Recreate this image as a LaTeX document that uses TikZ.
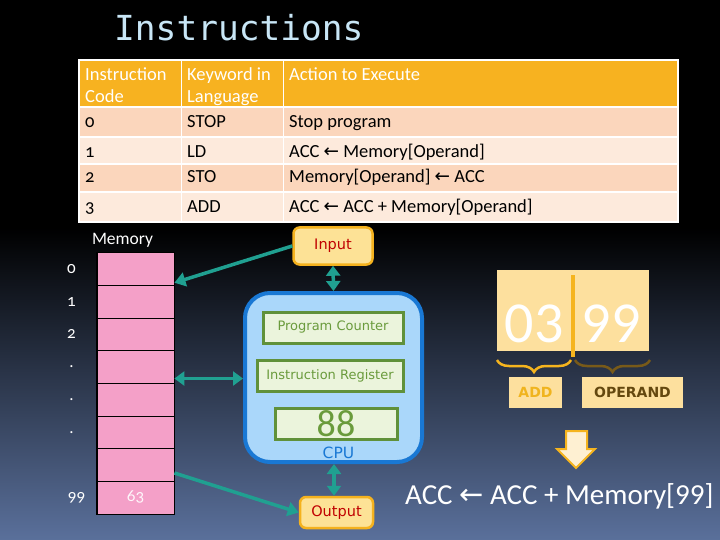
\documentclass[tikz,border=0pt]{standalone}
\usepackage{fontspec}
\setmainfont{Carlito}
\newfontfamily\osf{Carlito}[Numbers=OldStyle]
\newfontfamily\dv{DejaVu Sans}
\newfontfamily\dvmono{DejaVu Sans Mono}
\usetikzlibrary{arrows.meta,decorations.pathreplacing}
\newcommand\fsz[1]{\fontsize{#1}{#1}\selectfont}
\newcommand\larr{{\dv ←}}
\definecolor{bgbot}{RGB}{90,112,155}
\definecolor{hdr}{RGB}{247,178,32}
\definecolor{peachD}{RGB}{251,214,188}
\definecolor{peachL}{RGB}{253,234,220}
\definecolor{titleblue}{RGB}{200,230,246}
\definecolor{mempink}{RGB}{244,160,200}
\definecolor{teal}{RGB}{32,160,145}
\definecolor{iofill}{RGB}{253,226,150}
\definecolor{ioborder}{RGB}{245,178,30}
\definecolor{iotext}{RGB}{192,0,0}
\definecolor{cpufill}{RGB}{170,215,250}
\definecolor{cpuborder}{RGB}{25,120,212}
\definecolor{gfill}{RGB}{235,244,220}
\definecolor{gborder}{RGB}{96,145,58}
\definecolor{gtext}{RGB}{106,155,60}
\definecolor{codebg}{RGB}{253,224,158}
\definecolor{braceL}{RGB}{245,180,30}
\definecolor{braceR}{RGB}{120,90,25}
\definecolor{addtext}{RGB}{240,180,30}
\definecolor{opertext}{RGB}{100,72,15}
\definecolor{dafill}{RGB}{254,240,210}
\tikzset{
  hd/.style={anchor=base west,inner sep=0,text=white,font=\fsz{18.5}},
  cell/.style={anchor=base west,inner sep=0,text=black,font=\fsz{18.5}},
  memcell/.style={draw=black,line width=0.8,fill=mempink,minimum width=77,minimum height=32.66,inner sep=0},
  memlab/.style={text=white,font=\osf\fsz{17},inner sep=0},
  iobox/.style={draw=ioborder,line width=2.5,fill=iofill,rounded corners=6,text=iotext,font=\dv\fsz{14.5},inner sep=0},
  gbox/.style={draw=gborder,line width=3,fill=gfill,text=gtext,font=\dv\fsz{13},inner sep=0,minimum height=31},
  link/.style={teal,line width=3.5},
  tip/.style={-{Triangle[length=11,width=14]}},
  dtip/.style={{Triangle[length=10,width=14]}-{Triangle[length=10,width=14]}},
  tagbox/.style={fill=codebg,inner sep=0,minimum height=31,font=\dv\bfseries\fsz{14}},
}
\begin{document}
\begin{tikzpicture}[x=1pt,y=-1pt]
\useasboundingbox (0,0) rectangle (720,540);
\fill[black] (0,0) rectangle (720,540);
\shade[top color=black,bottom color=bgbot] (0,228) rectangle (720,540);

% title
\node[anchor=base west,inner sep=0,text=titleblue,font=\dvmono\fsz{34.5}] (title) at (114,41) {Instructions};

% table
\fill[hdr] (79,60) rectangle (678,107);
\fill[peachD] (79,107) rectangle (678,137);
\fill[peachL] (79,137) rectangle (678,164);
\fill[peachD] (79,164) rectangle (678,192);
\fill[peachL] (79,192) rectangle (678,222);
\draw[white,line width=1.5] (79,60) rectangle (678,222);
\foreach \yy in {107,137,164,192} \draw[white,line width=1.5] (79,\yy) -- (678,\yy);
\foreach \xx in {181.5,283.5} \draw[white,line width=1.5] (\xx,60) -- (\xx,222);

\node[hd] (h1a) at (85,81) {Instruction};
\node[hd] (h1b) at (85,103) {Code};
\node[hd] (h2a) at (187,81) {Keyword in};
\node[hd] (h2b) at (187,103) {Language};
\node[hd] (h3a) at (289,81) {Action to Execute};

\node[cell,font=\osf\fsz{18.5}] (c0) at (85,128) {0};
\node[cell] (k0) at (187,128) {STOP};
\node[cell] (a0) at (289,128) {Stop program};
\node[cell,font=\osf\fsz{18.5}] (c1) at (85,158) {1};
\node[cell] (k1) at (187,158) {LD};
\node[cell] (a1) at (289,158) {ACC \larr{} Memory[Operand]};
\node[cell,font=\osf\fsz{18.5}] (c2) at (85,183) {2};
\node[cell] (k2) at (187,183) {STO};
\node[cell] (a2) at (289,183) {Memory[Operand] \larr{} ACC};
\node[cell,font=\osf\fsz{18.5}] (c3) at (85,213) {3};
\node[cell] (k3) at (187,213) {ADD};
\node[cell] (a3) at (289,213) {ACC \larr{} ACC + Memory[Operand]};

% memory
\node[text=white,font=\fsz{17.5},inner sep=0] (memtitle) at (122.5,240) {Memory};
\foreach \i in {0,...,7} {
  \pgfmathsetmacro\cy{252.7+32.66*\i+16.33}
  \node[memcell] (m\i) at (135.5,\cy) {};
}
\draw[black,line width=1.5] (m0.north west) rectangle (m7.south east);
\node[memlab] (l0) at ([xshift=-64]m0.center) {0};
\node[memlab] (l1) at ([xshift=-64]m1.center) {1};
\node[memlab] (l2) at ([xshift=-64]m2.center) {2};
\node[memlab] (l3) at ([xshift=-64]m3.center) {.};
\node[memlab] (l4) at ([xshift=-64]m4.center) {.};
\node[memlab] (l5) at ([xshift=-64]m5.center) {.};
\node[memlab] (l7) at ([xshift=-59]m7.center) {99};
\node[text=white!92!mempink,font=\osf\fsz{17},inner sep=0] (v63) at ([xshift=0,yshift=1]m7.center) {63};

% input / output
\node[iobox,minimum width=79,minimum height=37] (input) at (333,246) {Input};
\node[iobox,minimum width=73,minimum height=31] (output) at (336.5,512.5) {Output};

% cpu
\node[draw=cpuborder,line width=4,fill=cpufill,rounded corners=25,minimum width=177,minimum height=169,inner sep=0] (cpu) at (333.5,377.5) {};
\node[gbox,minimum width=140] (pc) at (333,327.5) {Program Counter};
\node[gbox,minimum width=146] (ir) at (330,375.5) {Instruction Register};
\node[gbox,minimum width=122,font=\fsz{38}] (acc) at (336,423.5) {88};
\node[text=cpuborder,font=\dv\fsz{15.5},inner sep=0] (cpulab) at (338.5,452.5) {CPU};

% connectors
\draw[link,tip] (input.west) -- ([yshift=3]m0.south east);
\draw[link,dtip] (input.south) -- (cpu.north);
\draw[link,dtip] ([yshift=-11.5]m3.east) -- ([yshift=-11.5]m3.east -| cpu.west);
\draw[link,tip] ([yshift=-8]m6.east) -- (output.west);
\draw[link,dtip] ([xshift=-2.5]output.north) -- ([xshift=-2.5]output.north |- cpu.south);

% instruction word
\node[fill=codebg,minimum width=152,minimum height=81,inner sep=0] (code) at (573,310.5) {};
\node[anchor=base,inner sep=0,text=white,font=\fsz{58}] (op) at (534,342) {03};
\node[anchor=base,inner sep=0,text=white,font=\fsz{58}] (arg) at (611,342) {99};
\coordinate (dtop) at (572.5,275);
\coordinate (dbot) at (572.5,357);
\draw[braceL,line width=4] (dtop) -- (dbot);
\draw[braceL,line width=2.5,decorate,decoration={brace,amplitude=12}] (571,360) -- (497,360);
\draw[braceR,line width=2.5,decorate,decoration={brace,amplitude=12}] (650,360) -- (575,360);
\node[tagbox,minimum width=53,text=addtext] (add) at (535.5,392.5) {ADD};
\node[tagbox,minimum width=101,text=opertext] (oper) at (632.5,392.5) {OPERAND};

% down block arrow
\draw[braceL,line width=2,fill=dafill,line join=miter]
  (566,431) -- (587,431) -- (587,449) -- (595,449) -- (576,468) -- (557,449) -- (566,449) -- cycle;

\node[anchor=base west,inner sep=0,text=white,font=\fsz{29}] (res) at (405,504) {ACC \larr{} ACC + Memory[99]};
\end{tikzpicture}
\end{document}
